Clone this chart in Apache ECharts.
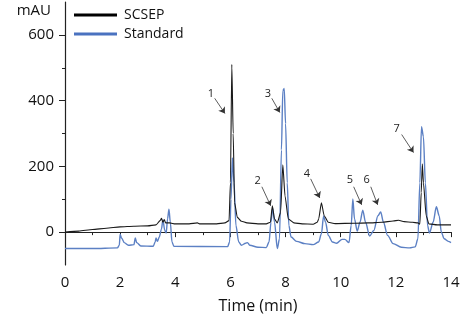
<!DOCTYPE html>
<html>
<head>
<meta charset="utf-8">
<script src="https://cdn.jsdelivr.net/npm/echarts@6/dist/echarts.min.js"></script>
<style>
html,body{margin:0;padding:0;background:#fff;}
#chart{width:474px;height:328px;}
</style>
</head>
<body>
<div id="chart"></div>
<script>
// ---- Data ----
const seriesNames = ['SCSEP', 'Standard'];
const scsepTime  = [0, 0.5, 1, 1.5, 2, 2.5, 3, 3.3, 3.45, 3.5, 3.55, 3.6, 3.65, 3.8, 4, 4.5, 4.8, 4.9, 5.5, 5.8, 5.95, 6.0, 6.05, 6.1, 6.15, 6.25, 6.4, 6.6, 7.0, 7.3, 7.45, 7.52, 7.6, 7.7, 7.82, 7.9, 7.98, 8.1, 8.3, 8.6, 9.0, 9.15, 9.2, 9.3, 9.4, 9.55, 9.8, 10.5, 11.0, 11.5, 11.9, 12.1, 12.3, 12.6, 12.8, 12.87, 12.92, 12.96, 13.0, 13.1, 13.2, 13.5, 14.0];
const scsepValue = [0, 3, 8, 12, 16, 18, 19, 22, 35, 42, 30, 38, 28, 28, 25, 25, 28, 25, 25, 28, 35, 150, 510, 300, 90, 45, 33, 28, 25, 25, 30, 80, 40, 28, 60, 205, 110, 40, 28, 25, 24, 30, 40, 89, 50, 30, 26, 27, 28, 30, 34, 36, 32, 30, 28, 24, 120, 208, 150, 50, 25, 22, 22];
const stdTime  = [0, 1, 1.9, 1.97, 2.0, 2.05, 2.15, 2.3, 2.5, 2.55, 2.6, 2.75, 3.2, 3.27, 3.3, 3.35, 3.42, 3.5, 3.55, 3.62, 3.67, 3.72, 3.77, 3.82, 3.88, 3.95, 5.9, 5.97, 6.02, 6.07, 6.13, 6.2, 6.3, 6.4, 6.55, 6.62, 6.7, 7.0, 7.3, 7.4, 7.47, 7.53, 7.6, 7.7, 7.78, 7.85, 7.9, 7.95, 8.0, 8.06, 8.12, 8.2, 8.4, 8.7, 9.0, 9.2, 9.3, 9.38, 9.45, 9.55, 9.7, 9.85, 10.05, 10.15, 10.3, 10.38, 10.44, 10.5, 10.6, 10.7, 10.8, 10.9, 11.05, 11.2, 11.35, 11.45, 11.55, 11.7, 11.9, 12.2, 12.5, 12.7, 12.8, 12.87, 12.93, 13.0, 13.07, 13.15, 13.22, 13.35, 13.47, 13.57, 13.65, 13.75, 13.9, 14.0];
const stdValue = [-50, -50, -48, -40, -6, -18, -32, -40, -38, -18, -32, -42, -43, -30, -18, -28, -15, 10, 37, 5, -3, 40, 70, 30, -30, -43, -44, -30, 100, 226, 150, 20, -30, -40, -34, -32, -40, -46, -47, -30, 30, 73, 30, -50, -20, 250, 430, 437, 330, 150, 20, -15, -28, -35, -38, -30, -5, 49, 30, -10, -30, -34, -22, -22, -32, 20, 101, 40, 3, 30, 67, 30, -12, 5, 50, 61, 30, -10, -35, -46, -48, -45, -20, 150, 321, 290, 150, 20, -3, 30, 77, 50, 0, -20, -28, -32];
const xTicks = [0, 2, 4, 6, 8, 10, 12, 14];
const yTicks = [0, 200, 400, 600];
const yMinorTicks = [100, 300, 500];
const peakLabels = ['1', '2', '3', '4', '5', '6', '7'];
const labelPos  = [[5.29, 422], [6.99, 156], [7.36, 422], [8.77, 177], [10.33, 159], [10.94, 159], [12.03, 315]];
const arrowFrom = [[5.43, 407], [7.14, 138], [7.50, 407], [8.91, 162], [10.47, 138], [11.09, 138], [12.21, 297]];
const arrowTo   = [[5.80, 361], [7.46, 80], [7.79, 364], [9.24, 104], [10.76, 83], [11.34, 83], [12.64, 242]];

// ---- Build ----
const zip = (a, b) => a.map((t, i) => [t, b[i]]);
const font = '"Open Sans", "Liberation Sans", sans-serif';
const chart = echarts.init(document.getElementById('chart'), null, {renderer: 'canvas'});
chart.setOption({
  animation: false,
  backgroundColor: '#fff',
  legend: {
    orient: 'vertical', left: 69, top: 3,
    icon: 'rect', itemWidth: 43, itemHeight: 3, itemGap: 5,
    textStyle: {fontFamily: font, fontSize: 14, color: '#111', padding: [0, 0, 0, 2]},
    data: seriesNames
  },
  grid: {left: 65, right: 23, top: 2, bottom: 63},
  xAxis: {
    type: 'value', min: 0, max: 14, interval: 2,
    name: 'Time (min)', nameLocation: 'middle', nameGap: 33,
    nameTextStyle: {fontFamily: font, fontSize: 16, color: '#111'},
    axisLine: {show: true, lineStyle: {color: '#222', width: 1.2}},
    axisTick: {show: true, length: 5, lineStyle: {color: '#222'}, customValues: xTicks},
    minorTick: {show: true, splitNumber: 2, length: 3, lineStyle: {color: '#222'}},
    axisLabel: {fontFamily: font, fontSize: 15, color: '#111', margin: 10, customValues: xTicks},
    splitLine: {show: false}
  },
  yAxis: [{
    type: 'value', min: -100, max: 700,
    name: 'mAU', nameLocation: 'end', nameGap: -16,
    nameTextStyle: {fontFamily: font, fontSize: 15, color: '#111', align: 'right', padding: [0, 14, 0, 0]},
    axisLine: {show: true, lineStyle: {color: '#222', width: 1.2}},
    axisTick: {show: true, length: 6, lineStyle: {color: '#222'}, customValues: yTicks},
    axisLabel: {fontFamily: font, fontSize: 15, color: '#111', margin: 11, customValues: yTicks},
    splitLine: {show: false}
  }, {
    type: 'value', min: -100, max: 700, position: 'left',
    axisLine: {show: false},
    axisTick: {show: true, length: 3, lineStyle: {color: '#222'}, customValues: yMinorTicks},
    axisLabel: {show: false},
    splitLine: {show: false}
  }],
  series: [{
    name: 'Standard', type: 'line', yAxisIndex: 0,
    data: zip(stdTime, stdValue),
    showSymbol: false, smooth: 0.3, smoothMonotone: 'x',
    lineStyle: {color: '#5c80c4', width: 1.4},
    itemStyle: {color: '#4a72c0'},
    z: 2
  }, {
    name: 'SCSEP', type: 'line', yAxisIndex: 0,
    data: zip(scsepTime, scsepValue),
    showSymbol: false, smooth: 0.2, smoothMonotone: 'x',
    lineStyle: {color: '#1a1a1a', width: 1.1},
    itemStyle: {color: '#000'},
    z: 3,
    markLine: {
      silent: true, symbol: ['none', 'arrow'], symbolSize: 6,
      lineStyle: {color: '#333', width: 0.8, type: 'solid'},
      itemStyle: {color: '#222'},
      label: {show: false},
      data: arrowFrom.map((p, i) => [{coord: p}, {coord: arrowTo[i]}])
    },
    markPoint: {
      silent: true, symbol: 'circle', symbolSize: 0,
      label: {show: true, fontFamily: font, fontSize: 11, color: '#222', formatter: p => p.name},
      data: labelPos.map((p, i) => ({name: peakLabels[i], coord: p}))
    }
  }]
});
</script>
</body>
</html>
